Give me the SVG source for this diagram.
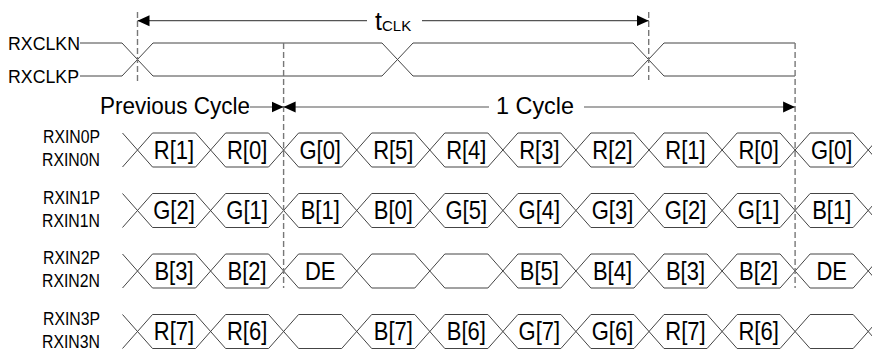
<svg xmlns="http://www.w3.org/2000/svg" width="872" height="350" viewBox="0 0 872 350">
<style>
text{font-family:"Liberation Sans",Arial,sans-serif;fill:#000}
.lbl{font-size:17.5px}
.bit{font-size:25px;text-anchor:middle;transform-box:fill-box;transform-origin:center;transform:scaleX(0.88)}
.big{font-size:24px}
.wave{fill:none;stroke:#444;stroke-width:1}
.dash{fill:none;stroke:#777;stroke-width:1.4;stroke-dasharray:6 3}
.arr{fill:none;stroke:#555;stroke-width:1.2}
</style>
<defs>
<marker id="ah" viewBox="0 0 12 12" refX="12" refY="6" markerWidth="12" markerHeight="12" orient="auto-start-reverse" markerUnits="userSpaceOnUse">
<path d="M0,0.5 L12,6 L0,11.5 Z" fill="#000"/>
</marker>
<path id="wv" class="wave" d="M122.5,-17 L152.5,17 H195.6 L225.6,-17 H268.6 L298.6,17 H341.7 L371.7,-17 H414.8 L444.8,17 H487.9 L517.9,-17 H560.9 L590.9,17 H634 L664,-17 H707.1 L737.1,17 H780.1 L810.1,-17 H853.2 L883.2,17 M122.5,17 L152.5,-17 H195.6 L225.6,17 H268.6 L298.6,-17 H341.7 L371.7,17 H414.8 L444.8,-17 H487.9 L517.9,17 H560.9 L590.9,-17 H634 L664,17 H707.1 L737.1,-17 H780.1 L810.1,17 H853.2 L883.2,-17"/>
</defs>

<g id="clock">
<text class="lbl" x="8" y="49.5" textLength="72" lengthAdjust="spacingAndGlyphs">RXCLKN</text>
<text class="lbl" x="8" y="83" textLength="71" lengthAdjust="spacingAndGlyphs">RXCLKP</text>
<path class="wave" d="M80,43 H122 L153,76 H382 L413,43 H633 L664,76 H795"/>
<path class="wave" d="M80,76 H122 L153,43 H382 L413,76 H633 L664,43 H795"/>
</g>

<g id="rxin0">
<text class="lbl" x="43" y="143" textLength="57" lengthAdjust="spacingAndGlyphs">RXIN0P</text>
<text class="lbl" x="42" y="166" textLength="58" lengthAdjust="spacingAndGlyphs">RXIN0N</text>
<use href="#wv" y="150"/>
<text class="bit" x="174" y="159">R[1]</text>
<text class="bit" x="247.1" y="159">R[0]</text>
<text class="bit" x="320.2" y="159">G[0]</text>
<text class="bit" x="393.3" y="159">R[5]</text>
<text class="bit" x="466.3" y="159">R[4]</text>
<text class="bit" x="539.4" y="159">R[3]</text>
<text class="bit" x="612.5" y="159">R[2]</text>
<text class="bit" x="685.5" y="159">R[1]</text>
<text class="bit" x="758.6" y="159">R[0]</text>
<text class="bit" x="831.7" y="159">G[0]</text>
</g>

<g id="rxin1">
<text class="lbl" x="43" y="203.5" textLength="57" lengthAdjust="spacingAndGlyphs">RXIN1P</text>
<text class="lbl" x="42" y="226.5" textLength="58" lengthAdjust="spacingAndGlyphs">RXIN1N</text>
<use href="#wv" y="210.5"/>
<text class="bit" x="174" y="219.5">G[2]</text>
<text class="bit" x="247.1" y="219.5">G[1]</text>
<text class="bit" x="320.2" y="219.5">B[1]</text>
<text class="bit" x="393.3" y="219.5">B[0]</text>
<text class="bit" x="466.3" y="219.5">G[5]</text>
<text class="bit" x="539.4" y="219.5">G[4]</text>
<text class="bit" x="612.5" y="219.5">G[3]</text>
<text class="bit" x="685.5" y="219.5">G[2]</text>
<text class="bit" x="758.6" y="219.5">G[1]</text>
<text class="bit" x="831.7" y="219.5">B[1]</text>
</g>

<g id="rxin2">
<text class="lbl" x="43" y="264" textLength="57" lengthAdjust="spacingAndGlyphs">RXIN2P</text>
<text class="lbl" x="42" y="287" textLength="58" lengthAdjust="spacingAndGlyphs">RXIN2N</text>
<use href="#wv" y="271"/>
<text class="bit" x="174" y="280">B[3]</text>
<text class="bit" x="247.1" y="280">B[2]</text>
<text class="bit" x="320.2" y="280">DE</text>
<text class="bit" x="539.4" y="280">B[5]</text>
<text class="bit" x="612.5" y="280">B[4]</text>
<text class="bit" x="685.5" y="280">B[3]</text>
<text class="bit" x="758.6" y="280">B[2]</text>
<text class="bit" x="831.7" y="280">DE</text>
</g>

<g id="rxin3">
<text class="lbl" x="43" y="324.5" textLength="57" lengthAdjust="spacingAndGlyphs">RXIN3P</text>
<text class="lbl" x="42" y="347.5" textLength="58" lengthAdjust="spacingAndGlyphs">RXIN3N</text>
<use href="#wv" y="331.5"/>
<text class="bit" x="174" y="340.5">R[7]</text>
<text class="bit" x="247.1" y="340.5">R[6]</text>
<text class="bit" x="393.3" y="340.5">B[7]</text>
<text class="bit" x="466.3" y="340.5">B[6]</text>
<text class="bit" x="539.4" y="340.5">G[7]</text>
<text class="bit" x="612.5" y="340.5">G[6]</text>
<text class="bit" x="685.5" y="340.5">R[7]</text>
<text class="bit" x="758.6" y="340.5">R[6]</text>
</g>

<g id="connectors">
<line class="dash" x1="137.5" y1="12" x2="137.5" y2="82"/>
<line class="dash" x1="648.7" y1="12" x2="648.7" y2="80"/>
<line class="dash" x1="283.6" y1="43" x2="283.6" y2="288"/>
<line class="dash" x1="795.1" y1="43" x2="795.1" y2="288"/>
<line class="arr" x1="137.5" y1="20.7" x2="367" y2="20.7" marker-start="url(#ah)"/>
<line class="arr" x1="422" y1="20.7" x2="648.7" y2="20.7" marker-end="url(#ah)"/>
<line class="arr" x1="250" y1="107" x2="283.6" y2="107" marker-end="url(#ah)"/>
<line class="arr" x1="283.6" y1="107" x2="489" y2="107" marker-start="url(#ah)"/>
<line class="arr" x1="584" y1="107" x2="795.1" y2="107" marker-end="url(#ah)"/>
</g>

<g id="labels">
<text x="375" y="30" style="font-size:25px">t<tspan style="font-size:15px" dy="0.7">CLK</tspan></text>
<text class="big" x="100" y="114" textLength="150" lengthAdjust="spacingAndGlyphs">Previous Cycle</text>
<text class="big" x="496" y="114" textLength="78" lengthAdjust="spacingAndGlyphs">1 Cycle</text>
</g>
</svg>
